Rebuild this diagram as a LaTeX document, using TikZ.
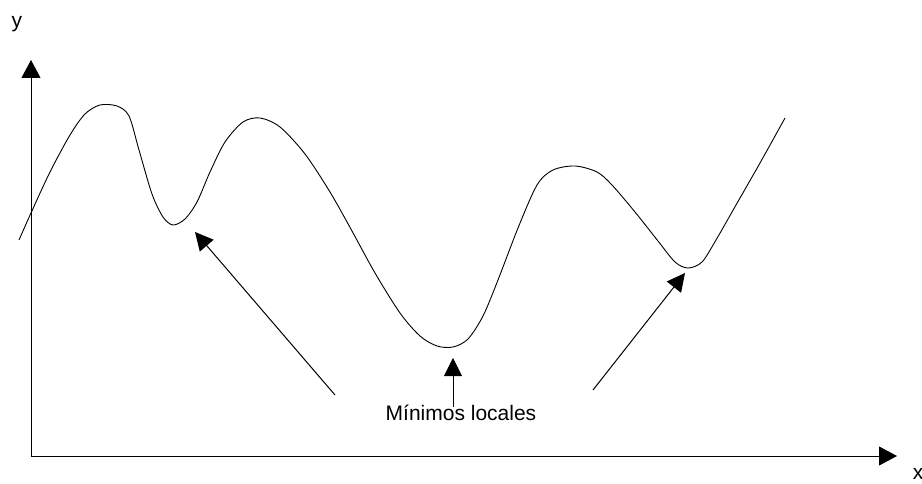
\documentclass[tikz,border=0pt]{standalone}
\usepackage{fontspec}
\setmainfont{Liberation Sans}
\usetikzlibrary{arrows.meta,positioning}

\begin{document}
\begin{tikzpicture}[x=1pt,y=-1pt,
        axis/.style={line width=1pt, -{Triangle[length=18pt,width=19pt]}},
        pointer/.style={line width=1pt, -{Triangle[length=18pt,width=18pt]}},
        lbl/.style={font=\fontsize{21}{25}\selectfont}]
        \useasboundingbox (0,0) rectangle (922,484);
        \fill[white] (0,0) rectangle (922,484);

        % Axes
        \coordinate (origin) at (31,456);
        \coordinate (ytip) at (31,60);
        \coordinate (xtip) at (897,456);
        \draw[axis] (origin) -- (ytip);
        \draw[axis] (origin) -- (xtip);
        \node[lbl] (ylabel) at (17,24) {y};
        \node[lbl] (xlabel) at (918,474) {x};

        % Function
        \draw[line width=0.9pt] plot[smooth, tension=0.5] coordinates {
            (19,240) (31,213) (50,172) (70,135) (85,114) (100,105) (117,106)
            (129,116) (139,150) (152,194) (163,217) (173,225) (185,219)
            (197,202) (210,172) (225,142) (243,122) (260,118) (280,127)
            (305,154) (330,192) (352,231) (375,273) (400,313) (420,336)
            (437,346) (453,347) (468,339) (483,316) (498,280) (518,228)
            (537,185) (553,170) (575,166) (597,172) (612,185) (635,212)
            (658,241) (675,262) (688,268) (702,262) (716,240) (736,205)
            (760,163) (785,118)};

        % Local minima
        \coordinate (min1) at (195,232);
        \coordinate (min2) at (453,358);
        \coordinate (min3) at (685,273);
        \coordinate (from1) at (335,395);
        \coordinate (from2) at (453,407);
        \coordinate (from3) at (593,390);
        \draw[pointer] (from1) -- (min1);
        \draw[pointer] (from2) -- (min2);
        \draw[pointer] (from3) -- (min3);

        % Label
        \node[lbl, anchor=base] (minlabel) at (461,420) {Mínimos locales};
\end{tikzpicture}
\end{document}
